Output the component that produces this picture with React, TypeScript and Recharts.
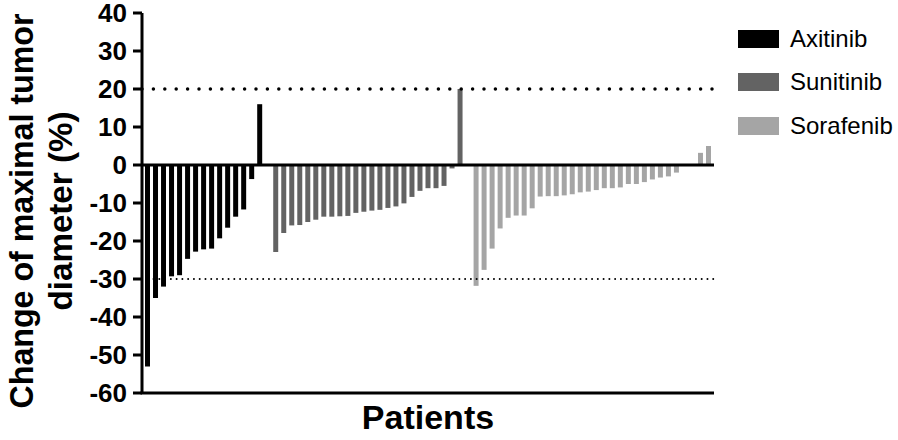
import React from 'react';
import { BarChart, Bar, XAxis, YAxis, ReferenceLine, Cell, Label } from 'recharts';

// change of maximal tumor diameter (%) per patient, sorted as in the waterfall
const axitinib = [-53, -35, -32, -29.3, -29, -24.7, -22.8, -22.2, -22, -19.3, -16.5, -13.6, -11.7, -3.7, 16];
const sunitinib = [
  -22.9, -17.9, -15.9, -15.8, -15, -14.4, -13.6, -13.6, -13.5, -13.4, -12.6, -12.3,
  -12, -11.8, -11.3, -10.9, -10.1, -8.4, -6.8, -6.1, -6.1, -5.5, -0.9, 20,
];
const sorafenib = [
  -31.8, -27.6, -22, -16.7, -13.9, -13.3, -13.3, -11.4, -8.3, -8.2, -8.2, -8, -7.7,
  -7.2, -7, -6.6, -6.1, -6.1, -5.9, -5, -5, -4.5, -3.8, -3.3, -3, -2, 0, 0, 3.2, 5,
];
const yTicks = [-60, -50, -40, -30, -20, -10, 0, 10, 20, 30, 40];

const drugs = [
  { name: 'Axitinib', color: '#000000', values: axitinib },
  { name: 'Sunitinib', color: '#636363', values: sunitinib },
  { name: 'Sorafenib', color: '#a5a5a5', values: sorafenib },
];

type Row = { id: string; change: number | null; drug: string };

// one empty slot between the groups
const data: Row[] = [];
drugs.forEach((d, gi) => {
  if (gi > 0) data.push({ id: `gap${gi}`, change: null, drug: '' });
  d.values.forEach((v, i) => data.push({ id: `${d.name}-${i + 1}`, change: v, drug: d.name }));
});

const colorOf = (drug: string) => drugs.find((d) => d.name === drug)?.color ?? '#000';

const FONT = '"Liberation Sans", Arial, sans-serif';

const YTitle = () => (
  <g fontFamily={FONT} fontWeight="bold" fontSize={34} fill="#000">
    <text transform="rotate(-90)" x={-211} y={33} textAnchor="middle" textLength={395} lengthAdjust="spacingAndGlyphs">
      Change of maximal tumor
    </text>
    <text transform="rotate(-90)" x={-211} y={72} textAnchor="middle" textLength={199} lengthAdjust="spacingAndGlyphs">
      diameter (%)
    </text>
  </g>
);

// bottom axis line taken from the axis viewBox, plus the axis title
const XTitle = (props: any) => {
  const vb = props.viewBox || { x: 142, y: 393, width: 572 };
  return (
    <g>
      <line x1={vb.x - 1.5} x2={vb.x + vb.width} y1={vb.y} y2={vb.y} stroke="#000" strokeWidth={3} />
      <text x={428} y={429} textAnchor="middle" fontFamily={FONT} fontWeight="bold" fontSize={34} fill="#000">
        Patients
      </text>
    </g>
  );
};

export default function App() {
  return (
    <div style={{ position: 'absolute', left: 0, top: 0, width: 898, height: 440, background: '#fff' }}>
      <BarChart
        width={898}
        height={440}
        data={data}
        margin={{ top: 13, right: 184, left: 0, bottom: 0 }}
        barCategoryGap={0}
      >
        <XAxis
          dataKey="id"
          height={47}
          tick={false}
          tickLine={false}
          axisLine={false}
          padding={{ left: 1, right: 2 }}
        >
          <Label content={(p: any) => <XTitle {...p} />} />
        </XAxis>
        <YAxis
          width={142}
          domain={[-60, 40]}
          ticks={yTicks}
          interval={0}
          tickSize={9}
          tickMargin={6}
          axisLine={{ stroke: '#000', strokeWidth: 3 }}
          tickLine={{ stroke: '#000', strokeWidth: 3 }}
          tick={{ fill: '#000', fontSize: 26, fontWeight: 'bold', fontFamily: FONT }}
        >
          <Label content={() => <YTitle />} />
        </YAxis>
        <ReferenceLine y={20} stroke="#000" strokeWidth={3.5} strokeDasharray="0 11.4" strokeLinecap="round" />
        <ReferenceLine y={-30} stroke="#000" strokeWidth={2} strokeDasharray="0 5.77" strokeLinecap="round" />
        <Bar dataKey="change" barSize={5} isAnimationActive={false}>
          {data.map((row) => (
            <Cell key={row.id} fill={colorOf(row.drug)} />
          ))}
        </Bar>
        <ReferenceLine y={0} stroke="#000" strokeWidth={3} />
      </BarChart>
      <div style={{ position: 'absolute', left: 738, top: 17, fontFamily: FONT, fontSize: 24, color: '#000' }}>
        {drugs.map((d) => (
          <div key={d.name} style={{ display: 'flex', alignItems: 'center', height: 43.5 }}>
            <div style={{ width: 41, height: 18, background: d.color, marginRight: 11 }} />
            <span style={{ lineHeight: '24px' }}>{d.name}</span>
          </div>
        ))}
      </div>
    </div>
  );
}
